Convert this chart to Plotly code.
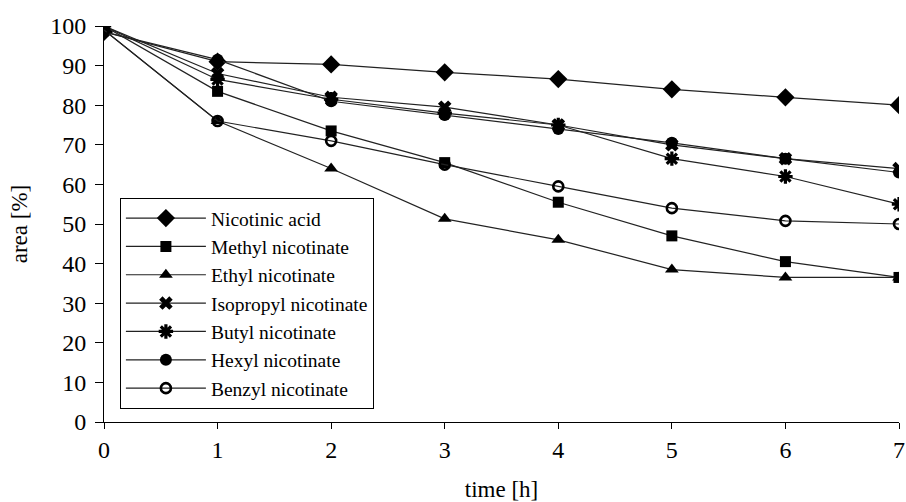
import plotly.graph_objects as go

time_h = [0, 1, 2, 3, 4, 5, 6, 7]
nicotinic_acid = [98.5, 91, 90.3, 88.3, 86.6, 84, 82, 80]
methyl = [100, 83.5, 73.5, 65.5, 55.5, 47, 40.5, 36.5]
ethyl = [99, 76, 64, 51.3, 46, 38.5, 36.5, 36.5]
isopropyl = [100, 88, 82, 79.5, 75, 70, 66.5, 64]
butyl = [100, 86.5, 81.5, 78, 75, 66.5, 62, 55]
hexyl = [98.5, 91.5, 81, 77.5, 74, 70.5, 66.5, 63]
benzyl = [99, 76, 71, 65, 59.5, 54, 50.8, 50]

series = [
    ("Nicotinic acid", nicotinic_acid, "diamond", 14, 0),
    ("Methyl nicotinate", methyl, "square", 11, 0),
    ("Ethyl nicotinate", ethyl, "triangle-up", 12, 0),
    ("Isopropyl nicotinate", isopropyl, "x", 12, 0),
    ("Butyl nicotinate", butyl, "asterisk-open", 12, 3.2),
    ("Hexyl nicotinate", hexyl, "circle", 12, 0),
    ("Benzyl nicotinate", benzyl, "circle-open", 10, 2.6),
]

FONT = "Liberation Serif, Times New Roman, serif"
fig = go.Figure()
for name, vals, sym, size, lw in series:
    fig.add_trace(go.Scatter(
        x=time_h, y=vals, name=name, mode="lines+markers",
        line=dict(color="#222222", width=1.2),
        marker=dict(symbol=sym, size=size, color="black",
                    line=dict(color="black", width=lw)),
    ))

fig.update_layout(
    width=906, height=502,
    margin=dict(l=104, r=7, t=26, b=80),
    paper_bgcolor="white", plot_bgcolor="white",
    font=dict(family=FONT, color="black", size=23),
    showlegend=True,
    legend=dict(
        x=0.02, y=0.566, xanchor="left", yanchor="top",
        bordercolor="black", borderwidth=1, bgcolor="white",
        font=dict(family=FONT, size=19.5, color="black"),
        tracegroupgap=0, itemwidth=80,
    ),
    xaxis=dict(
        range=[0, 7], tickvals=time_h, showgrid=False, zeroline=False,
        showline=True, linecolor="black", linewidth=1,
        ticks="outside", ticklen=6, tickcolor="black",
        tickfont=dict(size=24), automargin=False,
        title=dict(text="time [h]", font=dict(size=23), standoff=22),
    ),
    yaxis=dict(
        range=[0, 100], tickvals=[0, 10, 20, 30, 40, 50, 60, 70, 80, 90, 100],
        showgrid=False, zeroline=False,
        showline=True, linecolor="black", linewidth=1,
        ticks="outside", ticklen=8, tickcolor="black",
        ticklabelstandoff=4, automargin=False,
        tickfont=dict(size=24),
        title=dict(text="area [%]", font=dict(size=23), standoff=16),
    ),
)

fig.write_html("out.html")
